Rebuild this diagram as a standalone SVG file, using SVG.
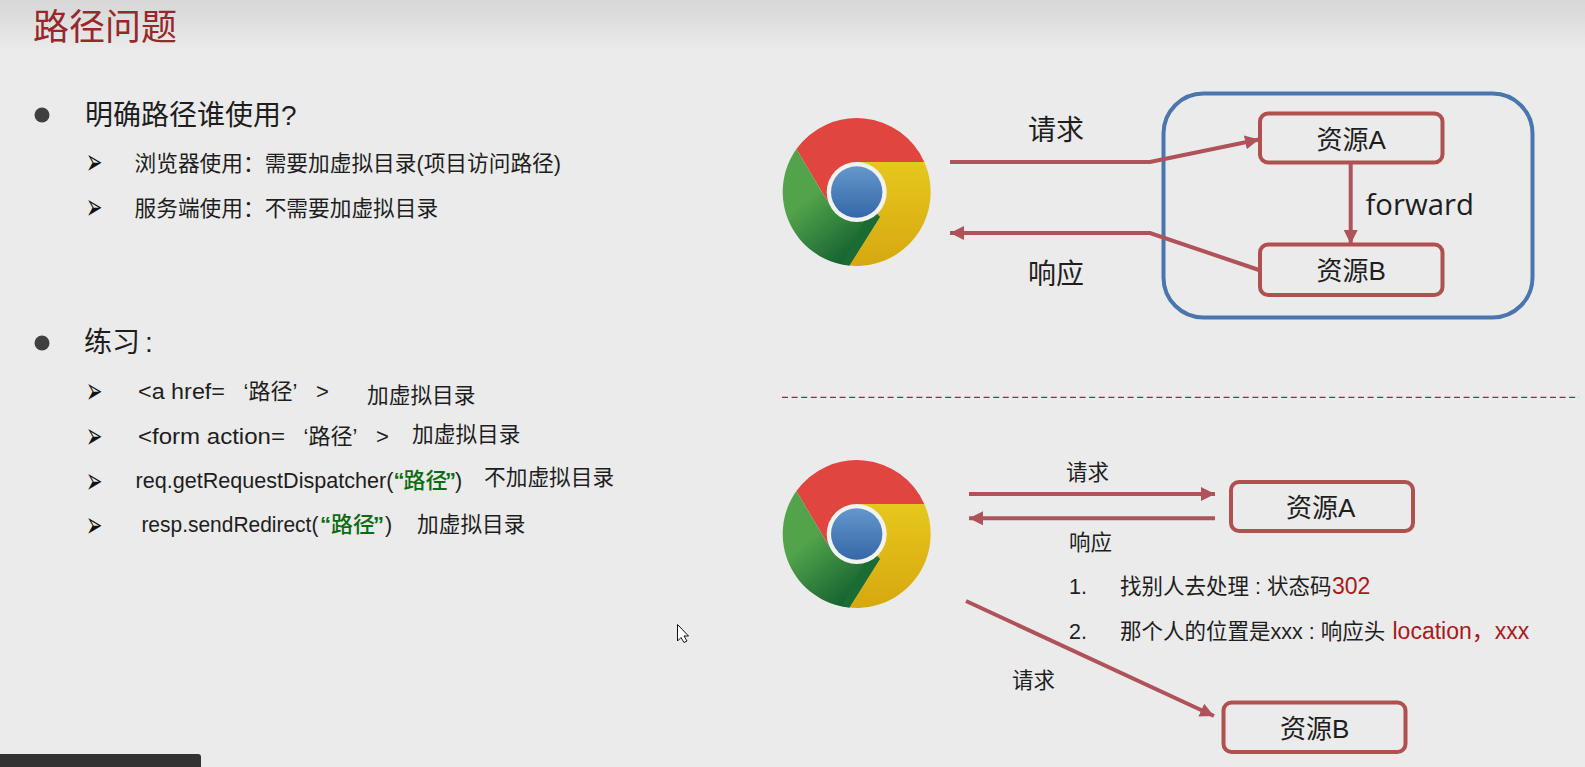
<svg xmlns="http://www.w3.org/2000/svg" width="1585" height="767" viewBox="0 0 1585 767">
<style>
text{font-family:"Liberation Sans","Noto Sans CJK SC",sans-serif;fill:#1e1e1e}
.cjk{font-family:"Noto Sans CJK SC","Liberation Sans",sans-serif}
.h1{font-size:28px}.b{font-size:21.700px}.m{font-size:21.500px}.c{font-size:22px}.lb{font-size:28px}.res{font-size:26px}
.tick{font-family:"DejaVu Sans",sans-serif;font-size:17px;fill:#111}
.red{fill:#a81a1c}.grn{fill:#0c6b10;font-weight:700}.grc{fill:#0c6b10;font-weight:500}
.box{fill:none;stroke:#b0504f;stroke-width:4}
.wire{fill:none;stroke:#b0525a;stroke-width:4;stroke-linejoin:miter}
.arr{marker-end:url(#ah)}
</style>
<defs>
<linearGradient id="bg" x1="0" y1="0" x2="0" y2="1"><stop offset="0" stop-color="#d6d6d6"/><stop offset="1" stop-color="#ebebeb"/></linearGradient>
<linearGradient id="gy" x1="0" y1="0" x2="0" y2="1"><stop offset="0" stop-color="#e6c71d"/><stop offset="1" stop-color="#d6a80f"/></linearGradient>
<linearGradient id="gg" x1="0.3" y1="0.4" x2="0.7" y2="1"><stop offset="0" stop-color="#52a34a"/><stop offset="1" stop-color="#0f5c2e"/></linearGradient>
<linearGradient id="gb" x1="0" y1="0" x2="0" y2="1"><stop offset="0" stop-color="#6597cc"/><stop offset="1" stop-color="#3468a8"/></linearGradient>
<marker id="ah" markerUnits="userSpaceOnUse" markerWidth="16" markerHeight="16" refX="14" refY="7" orient="auto"><path d="M0,0L14,7L0,14Z" fill="#b0525a"/></marker>
<g id="chrome">
<path d="M-60.3,-42.9A74,74 0 0 1 67.6,-30L0,-30L0,0L-29,9.7Z" fill="#e0453f"/>
<path d="M67.6,-30A74,74 0 0 1 -7.4,73.6L23.3,24.7L0,0L0,-30Z" fill="url(#gy)"/>
<path d="M-7.4,73.6A74,74 0 0 1 -60.3,-42.9L-29,9.7L0,0L23.3,24.7Z" fill="url(#gg)"/>
<path d="M23.3,24.7L-7.4,73.600L-15,72L8,28Z" fill="#1a6b34"/>
<circle r="30" fill="#f2f2f0"/><circle r="25.7" fill="url(#gb)"/>
</g>
</defs>
<rect width="1585" height="767" fill="#ebebeb"/>
<rect width="1585" height="50" fill="url(#bg)"/>

<g id="title"><text class="cjk" x="33" y="40" font-size="36" style="fill:#96282a">路径问题</text></g>

<g id="left-top">
<circle cx="42" cy="115" r="7.500" fill="#404040"/>
<text class="h1" x="85" y="125">明确路径谁使用?</text>
<text class="tick" transform="translate(86 174) scale(1.15 2.1)">➢</text>
<text class="b" x="134.500" y="171">浏览器使用：需要加虚拟目录(项目访问路径)</text>
<text class="tick" transform="translate(86 219) scale(1.15 2.1)">➢</text>
<text class="b" x="134.500" y="216">服务端使用：不需要加虚拟目录</text>
</g>

<g id="left-practice">
<circle cx="42" cy="343" r="7.500" fill="#404040"/>
<text class="h1" x="84" y="352">练习<tspan dx="5">:</tspan></text>
<text class="tick" transform="translate(86 403.400) scale(1.15 2.1)">➢</text>
<text class="c" x="138" y="399" textLength="87" lengthAdjust="spacingAndGlyphs">&lt;a href=</text>
<text class="c" x="243.500" y="399">‘路径’</text>
<text class="c" x="316" y="399">&gt;</text>
<text class="b" x="367" y="403">加虚拟目录</text>
<text class="tick" transform="translate(86 448.400) scale(1.15 2.1)">➢</text>
<text class="c" x="138" y="444" textLength="147" lengthAdjust="spacingAndGlyphs">&lt;form action=</text>
<text class="c" x="303.500" y="444">‘路径’</text>
<text class="c" x="376" y="444">&gt;</text>
<text class="b" x="412" y="442">加虚拟目录</text>
<text class="tick" transform="translate(86 493) scale(1.15 2.1)">➢</text>
<text class="m" x="135.500" y="488" textLength="258" lengthAdjust="spacingAndGlyphs">req.getRequestDispatcher(</text>
<text class="c" y="488"><tspan class="grn" x="393.500">“</tspan><tspan class="grc" x="403.500">路径</tspan><tspan class="grn" x="445">”</tspan></text>
<text class="m" x="455" y="488">)</text>
<text class="b" x="484" y="485">不加虚拟目录</text>
<text class="tick" transform="translate(86 537) scale(1.15 2.1)">➢</text>
<text class="m" x="141.400" y="532" textLength="177" lengthAdjust="spacingAndGlyphs">resp.sendRedirect(</text>
<text class="c" y="532"><tspan class="grn" x="320">“</tspan><tspan class="grc" x="331">路径</tspan><tspan class="grn" x="373">”</tspan></text>
<text class="m" x="385" y="532">)</text>
<text class="b" x="417" y="532">加虚拟目录</text>
</g>

<g id="chrome-top"><use href="#chrome" transform="translate(856.700 192)"/></g>
<g id="server-frame"><rect x="1163.500" y="93.500" width="369" height="224" rx="40" fill="none" stroke="#4a76ad" stroke-width="4"/></g>
<g id="res-a-top"><rect class="box" x="1260" y="113.500" width="182.500" height="49" rx="8"/><text class="res" x="1316.500" y="149">资源A</text></g>
<g id="res-b-top"><rect class="box" x="1260" y="244.500" width="182.500" height="50.500" rx="8"/><text class="res" x="1316.500" y="280">资源B</text></g>
<g id="labels-top">
<text class="lb" x="1028" y="140">请求</text>
<text class="lb" x="1028" y="284">响应</text>
<text x="1365.500" y="215" font-size="29.300" style="font-family:'Open Sans',sans-serif">forward</text>
</g>

<g id="divider"><line x1="782" y1="397.300" x2="1579" y2="397.300" stroke="#8a3048" stroke-width="1.300" stroke-dasharray="6 3.600"/></g>

<g id="chrome-bottom"><use href="#chrome" transform="translate(856.700 534)"/></g>
<g id="res-a-bottom"><rect class="box" x="1231" y="482" width="182" height="49" rx="8"/><text class="res" x="1286" y="517">资源A</text></g>
<g id="res-b-bottom"><rect class="box" x="1223.500" y="702.500" width="182" height="49.500" rx="8"/><text class="res" x="1280" y="738">资源B</text></g>
<g id="labels-bottom">
<text class="m" x="1066" y="480">请求</text>
<text class="m" x="1069" y="550">响应</text>
<text class="m" x="1012" y="688">请求</text>
<text class="m" x="1069" y="594">1.</text>
<text class="m" x="1120" y="594">找别人去处理 : 状态码</text>
<text class="red" x="1332" y="594" font-size="23">302</text>
<text class="m" x="1069" y="639">2.</text>
<text class="m" x="1120" y="639">那个人的位置是xxx : 响应头</text>
<text class="red" x="1392.500" y="639" font-size="23">location，xxx</text>
</g>

<g id="connectors">
<path class="wire arr" d="M950,162H1150L1259,139.500"/>
<path class="wire arr" d="M1259,270L1150,233H950"/>
<path class="wire arr" d="M1350.700,162V244"/>
<path class="wire arr" d="M969,494H1215"/>
<path class="wire arr" d="M1215,518.300H969"/>
<path class="wire arr" d="M966,601L1214,716"/>
</g>

<g id="cursor"><path d="M677.500,624.500V641L681,637.500L684,642.500L687,641L684,636H688.500Z" fill="#fff" stroke="#111" stroke-width="1"/></g>
<g id="bar"><path d="M0,767V754H198Q201,754 201,757V767Z" fill="#333"/></g>
</svg>
